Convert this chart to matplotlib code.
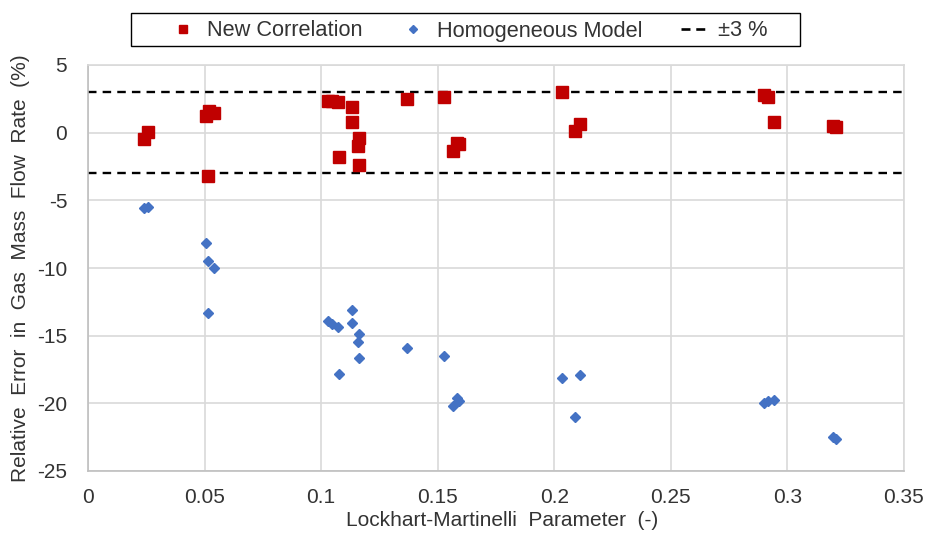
import matplotlib
matplotlib.use("Agg")
import matplotlib.pyplot as plt
from matplotlib.lines import Line2D
from matplotlib.patches import Rectangle

plt.rcParams['font.family'] = ['Liberation Sans', 'DejaVu Sans']
plt.rcParams['axes.unicode_minus'] = False

# Data
x_new = [0.0239, 0.0256, 0.0507, 0.0515, 0.0520, 0.0542,
         0.1028, 0.1047, 0.1071, 0.1133, 0.1133, 0.1161, 0.1157, 0.1161, 0.1078,
         0.1369, 0.1529, 0.1583, 0.1590, 0.1564,
         0.2033, 0.2109, 0.2087,
         0.2900, 0.2915, 0.2943, 0.3195, 0.3210]
y_new = [-0.45, 0.07, 1.20, -3.20, 1.60, 1.45,
         2.35, 2.35, 2.30, 1.93, 0.77, -0.42, -0.99, -2.40, -1.78,
         2.50, 2.63, -0.79, -0.85, -1.36,
         3.00, 0.62, 0.15,
         2.75, 2.60, 0.77, 0.50, 0.40]

x_hom = [0.0239, 0.0256, 0.0507, 0.0515, 0.0515, 0.0542,
         0.1028, 0.1047, 0.1071, 0.1133, 0.1133, 0.1161, 0.1157, 0.1161, 0.1078,
         0.1369, 0.1529, 0.1583, 0.1590, 0.1564,
         0.2033, 0.2109, 0.2087,
         0.2900, 0.2915, 0.2943, 0.3195, 0.3210]
y_hom = [-5.54, -5.49, -8.17, -13.29, -9.45, -10.00,
         -13.90, -14.15, -14.33, -13.09, -14.03, -14.90, -15.46, -16.68, -17.86,
         -15.89, -16.48, -19.60, -19.80, -20.20,
         -18.14, -17.94, -21.00,
         -19.95, -19.85, -19.77, -22.50, -22.60]

band = 3.0
x_ticks = [0, 0.05, 0.1, 0.15, 0.2, 0.25, 0.3, 0.35]
x_tick_labels = ['0', '0.05', '0.1', '0.15', '0.2', '0.25', '0.3', '0.35']
y_ticks = [-25, -20, -15, -10, -5, 0, 5]

red = '#C00000'
blue = '#4472C4'
grid_c = '#D9D9D9'
txt_c = '#333333'

W, H = 927, 538
fig = plt.figure(figsize=(W/100, H/100), dpi=100)
ax = fig.add_axes([88/W, (H-471)/H, (904-88)/W, (471-65)/H])

ax.set_xlim(0, 0.35)
ax.set_ylim(-25, 5)
ax.set_xticks(x_ticks)
ax.set_xticklabels(x_tick_labels)
ax.set_yticks(y_ticks)
ax.grid(True, color=grid_c, linewidth=1.2)
ax.set_axisbelow(True)
for s in ax.spines.values():
    s.set_color(grid_c)
    s.set_linewidth(1.2)
ax.spines['left'].set_color('#BFBFBF')
ax.spines['bottom'].set_color('#BFBFBF')
ax.tick_params(length=0, labelsize=15, colors=txt_c)
ax.tick_params(axis='x', pad=12)
ax.tick_params(axis='y', pad=15)

dash = (0, (3.6, 2.6))
ax.axhline(band, color='black', lw=1.7, linestyle=dash, zorder=2)
ax.axhline(-band, color='black', lw=1.7, linestyle=dash, zorder=2)

ax.plot(x_hom, y_hom, linestyle='none', marker='D', ms=5.2, color=blue, zorder=3)
ax.plot(x_new, y_new, linestyle='none', marker='s', ms=8.5, color=red, zorder=4)

ax.set_xlabel('Lockhart-Martinelli  Parameter  (-)', fontsize=15, color=txt_c)
ax.set_ylabel('Relative  Error  in  Gas  Mass  Flow  Rate  (%)', fontsize=15, color=txt_c)
ax.xaxis.set_label_coords(0.5 + 6/816, -(520-471)/406, transform=ax.transAxes)
ax.xaxis.label.set_va('center')
ax.yaxis.set_label_coords(-(88-21)/816, 0.5, transform=ax.transAxes)
ax.yaxis.label.set_va('center')

# Legend frame
fig.patches.append(Rectangle((131/W, 1-46/H), (800-131)/W, (46-13)/H,
                             transform=fig.transFigure, facecolor='white',
                             edgecolor='black', linewidth=1.0, zorder=1))

handles = [
    Line2D([], [], linestyle='none', marker='s', ms=6.3, color=red),
    Line2D([], [], linestyle='none', marker='D', ms=4.3, color=blue),
    Line2D([], [], color='black', lw=1.9, linestyle=(0, (3.4, 2.2))),
]
labels = ['New Correlation', 'Homogeneous Model', '±3 %']
leg = fig.legend(handles, labels, loc='center', bbox_to_anchor=(468.5/W, 1-31/H),
                 ncol=3, fontsize=15.7, frameon=False,
                 handlelength=1.2, columnspacing=1.75,
                 borderpad=0.0, handletextpad=0.5, labelcolor=txt_c)
leg.set_zorder(2)

fig.savefig('out.png', dpi=100)
